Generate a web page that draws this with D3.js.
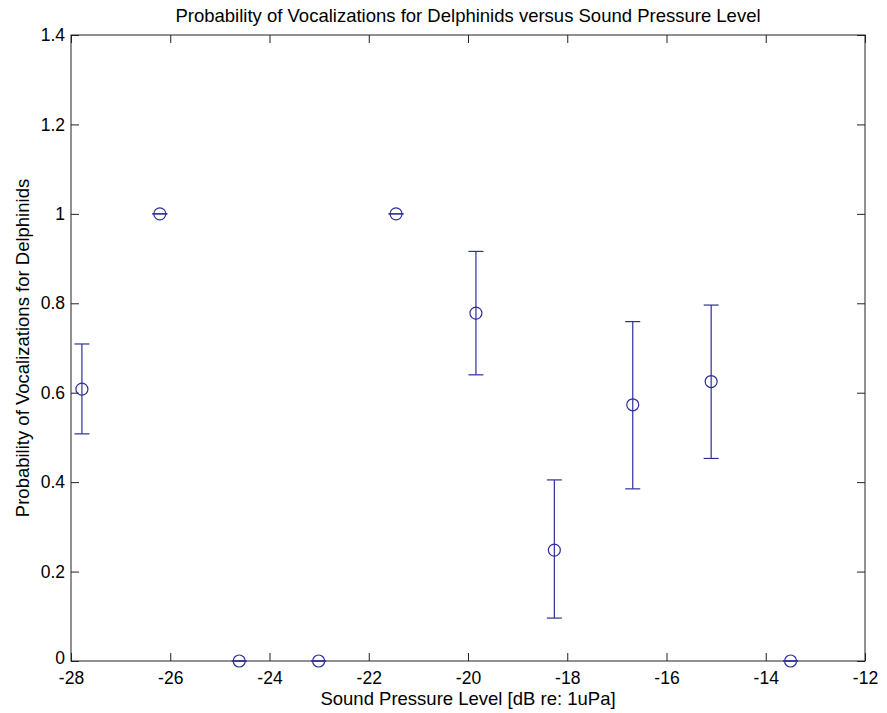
<!DOCTYPE html>
<html>
<head>
<meta charset="utf-8">
<script src="https://cdn.jsdelivr.net/npm/d3@7"></script>
<style>
  body { margin: 0; background: #fff; }
  svg { display: block; }
</style>
</head>
<body>
<div id="chart"></div>
<script>
// data
const spl   = [-27.78, -26.21, -24.61, -23.01, -21.45, -19.84, -18.26, -16.68, -15.10, -13.50];
const prob  = [0.608, 1, 0, 0, 1, 0.778, 0.248, 0.573, 0.625, 0];
const lower = [0.508, 1, 0, 0, 1, 0.640, 0.096, 0.385, 0.453, 0];
const upper = [0.709, 1, 0, 0, 1, 0.916, 0.405, 0.759, 0.796, 0];
const xTicks = [-28, -26, -24, -22, -20, -18, -16, -14, -12];
const yTicks = [0, 0.2, 0.4, 0.6, 0.8, 1, 1.2, 1.4];

let width = 887, height = 713;
let margin = ({ top: 35, right: 22, bottom: 52, left: 71 });
let blue = "#2e2e9c";
let fs = 17.5;      // tick labels
let fsTitle = 18.5; // title + axis labels

let x = d3.scaleLinear().domain([-28, -12]).range([margin.left, width - margin.right]);
let y = d3.scaleLinear().domain([0, 1.4]).range([height - margin.bottom, margin.top]);

let svg = d3.select("#chart")
    .append("svg")
    .attr("width", width)
    .attr("height", height)
    .attr("font-family", "'Liberation Sans', Arial, sans-serif")
    .attr("font-size", fs);

// box + inside ticks (all four sides, like matlab)
let tickLen = 8;
function styleAxis(g) {
    g.select(".domain").remove();
    g.selectAll(".tick line").attr("stroke", "#222");
}

svg.append("g")
    .attr("transform", `translate(0,${y(0)})`)
    .call(d3.axisBottom(x).tickValues(xTicks).tickSizeInner(-tickLen).tickSizeOuter(0).tickPadding(11).tickFormat(d => String(d)))
    .call(styleAxis)
    .call(g => g.selectAll("text").attr("fill", "#000").attr("font-size", fs));

svg.append("g")
    .attr("transform", `translate(0,${y(1.4)})`)
    .call(d3.axisTop(x).tickValues(xTicks).tickSizeInner(-tickLen).tickSizeOuter(0).tickFormat(""))
    .call(styleAxis);

svg.append("g")
    .attr("transform", `translate(${x(-28)},0)`)
    .call(d3.axisLeft(y).tickValues(yTicks).tickSizeInner(-tickLen).tickSizeOuter(0).tickPadding(6).tickFormat(d => String(d)))
    .call(styleAxis)
    .call(g => g.selectAll("text").attr("fill", "#000").attr("font-size", fs))
    // lift the "0" a little so it clears the "-28" below it
    .call(g => g.selectAll(".tick text").filter(d => d === 0).attr("y", -3));

svg.append("g")
    .attr("transform", `translate(${x(-12)},0)`)
    .call(d3.axisRight(y).tickValues(yTicks).tickSizeInner(-tickLen).tickSizeOuter(0).tickFormat(""))
    .call(styleAxis);

svg.append("rect")
    .attr("x", x(-28))
    .attr("y", y(1.4))
    .attr("width", x(-12) - x(-28))
    .attr("height", y(0) - y(1.4))
    .attr("fill", "none")
    .attr("stroke", "#222")
    .attr("stroke-width", 1);

// error bars
let data = spl.map((s, i) => ({ s, p: prob[i], lo: lower[i], hi: upper[i] }));
let capW = 7.5;

let bars = svg.append("g")
    .attr("stroke", blue)
    .attr("stroke-width", 1.2)
    .attr("fill", "none");

bars.selectAll("line.v")
    .data(data)
    .join("line")
    .attr("class", "v")
    .attr("x1", d => x(d.s)).attr("x2", d => x(d.s))
    .attr("y1", d => y(d.lo)).attr("y2", d => y(d.hi));

bars.selectAll("line.lo")
    .data(data)
    .join("line")
    .attr("class", "lo")
    .attr("x1", d => x(d.s) - capW).attr("x2", d => x(d.s) + capW)
    .attr("y1", d => y(d.lo)).attr("y2", d => y(d.lo));

bars.selectAll("line.hi")
    .data(data)
    .join("line")
    .attr("class", "hi")
    .attr("x1", d => x(d.s) - capW).attr("x2", d => x(d.s) + capW)
    .attr("y1", d => y(d.hi)).attr("y2", d => y(d.hi));

bars.selectAll("circle")
    .data(data)
    .join("circle")
    .attr("cx", d => x(d.s))
    .attr("cy", d => y(d.p))
    .attr("r", 6);

// titles
svg.append("text")
    .attr("x", (x(-28) + x(-12)) / 2)
    .attr("y", 22)
    .attr("text-anchor", "middle")
    .attr("font-size", fsTitle)
    .text("Probability of Vocalizations for Delphinids versus Sound Pressure Level");

svg.append("text")
    .attr("x", (x(-28) + x(-12)) / 2)
    .attr("y", 705)
    .attr("text-anchor", "middle")
    .attr("font-size", fsTitle)
    .text("Sound Pressure Level [dB re: 1uPa]");

svg.append("text")
    .attr("transform", `translate(29,${(y(0) + y(1.4)) / 2}) rotate(-90)`)
    .attr("text-anchor", "middle")
    .attr("font-size", fsTitle)
    .text("Probability of Vocalizations for Delphinids");
</script>
</body>
</html>
